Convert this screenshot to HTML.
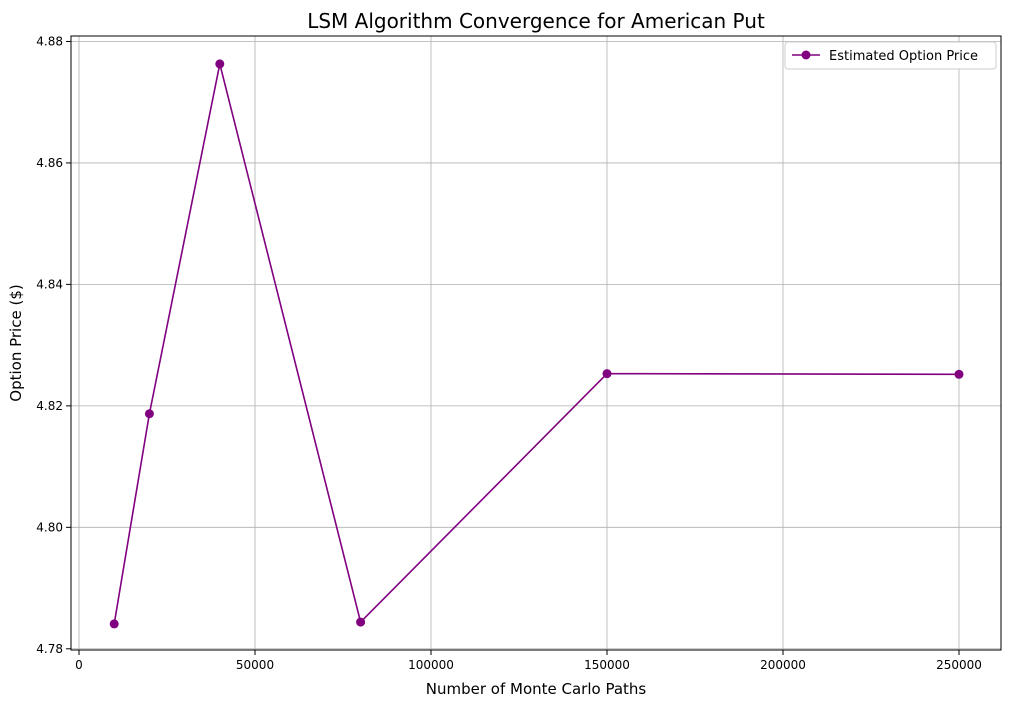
<!DOCTYPE html>
<html><head><meta charset="utf-8"><style>
body{margin:0;background:#fff;font-family:"Liberation Sans","DejaVu Sans",sans-serif;}
svg text{font-family:"DejaVu Sans","Liberation Sans",sans-serif;}
</style></head><body>
<svg id="chart" width="1011" height="706" xmlns="http://www.w3.org/2000/svg">
<rect width="1011" height="706" fill="#fff"/>
<text x="536" y="28" text-anchor="middle" font-size="20">LSM Algorithm Convergence for American Put</text>
<text x="536" y="694" text-anchor="middle" font-size="15">Number of Monte Carlo Paths</text>
<text transform="translate(21,343) rotate(-90)" text-anchor="middle" font-size="15">Option Price ($)</text>
<g id="grid"></g><g id="axes"></g><g id="series"></g>
<g>
<rect x="785" y="42" width="211" height="27" fill="#fff" stroke="#ccc" rx="3"/>
<line x1="792" y1="55" x2="820" y2="55" stroke="purple" stroke-width="1.5"/>
<circle cx="806" cy="55" r="4.5" fill="purple"/>
<text x="829" y="60" font-size="13">Estimated Option Price</text>
</g>
</svg>
<script>
const paths=[10000,20000,40000,80000,150000,250000];
const prices=[4.7841,4.8187,4.8763,4.7844,4.8253,4.8252];
const xTicks=[0,50000,100000,150000,200000,250000];
const yTicks=[4.78,4.80,4.82,4.84,4.86,4.88];
const L=71,R=1001,T=36,B=650;
const x0=-2273,x1=261932,y0=4.7798,y1=4.8809;
const sx=v=>L+(v-x0)/(x1-x0)*(R-L);
const sy=v=>B-(v-y0)/(y1-y0)*(B-T);
const NS="http://www.w3.org/2000/svg";
function mk(tag,attrs,parent){const e=document.createElementNS(NS,tag);for(const k in attrs)e.setAttribute(k,attrs[k]);parent.appendChild(e);return e;}
const grid=document.getElementById('grid'),axes=document.getElementById('axes'),ser=document.getElementById('series');
xTicks.forEach(t=>{const x=sx(t);
const g=mk('line',{x1:x,x2:x,y1:T,y2:B,stroke:'#b0b0b0','stroke-width':0.8},grid);

mk('line',{x1:x,x2:x,y1:B,y2:B+5,stroke:'#000'},axes);
const tx=mk('text',{x:x,y:B+19,'text-anchor':'middle','font-size':12},axes);tx.textContent=t;
});
yTicks.forEach(t=>{const y=sy(t);
const g=mk('line',{x1:L,x2:R,y1:y,y2:y,stroke:'#b0b0b0','stroke-width':0.8},grid);

mk('line',{x1:L-5,x2:L,y1:y,y2:y,stroke:'#000'},axes);
const tx=mk('text',{x:L-8,y:y+4,'text-anchor':'end','font-size':12},axes);tx.textContent=t.toFixed(2);
});
const fr=mk('rect',{x:L,y:T,width:R-L,height:B-T,fill:'none',stroke:'#000','stroke-width':1},axes);

const pl=mk('polyline',{points:paths.map((p,i)=>sx(p)+','+sy(prices[i])).join(' '),fill:'none',stroke:'purple','stroke-width':1.6},ser);

paths.forEach((p,i)=>{const c=mk('circle',{cx:sx(p),cy:sy(prices[i]),r:4.5,fill:'purple'},ser);
});
</script>
</body></html>
